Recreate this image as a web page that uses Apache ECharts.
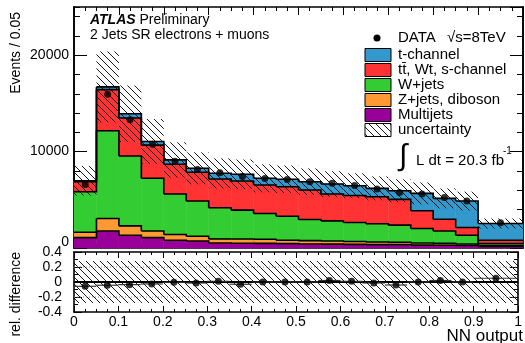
<!DOCTYPE html>
<html>
<head>
<meta charset="utf-8">
<script src="https://cdn.jsdelivr.net/npm/echarts@6.0.0/dist/echarts.min.js"></script>
<style>
  html, body { margin: 0; padding: 0; background: #fff; }
  #chart { width: 525px; height: 343px; }
</style>
</head>
<body>
<div id="chart"></div>
<script>
// bin edges of NN output (last bin is 0.9 - 1.0)
var binEdges = [0, 0.05, 0.1, 0.15, 0.2, 0.25, 0.3, 0.35, 0.4, 0.45, 0.5, 0.55, 0.6, 0.65, 0.7, 0.75, 0.8, 0.85, 0.9, 1.0];

// stacked MC, bottom to top
var multijets = [1080, 1770, 1320, 1080, 800, 730, 520, 500, 480, 450, 420, 400, 380, 350, 330, 300, 280, 260, 150];
var zjets     = [550, 1290, 970, 690, 600, 490, 420, 440, 420, 350, 340, 320, 300, 270, 250, 220, 200, 160, 100];
var wjets     = [4210, 9100, 7260, 5460, 4200, 3650, 3230, 2990, 2680, 2500, 2200, 2090, 1970, 1900, 1790, 1500, 1290, 900, 210];
var ttbar     = [1040, 4270, 3930, 3440, 3090, 2990, 2990, 3020, 2950, 3060, 3050, 2790, 2800, 2790, 2670, 1840, 1220, 810, 340];
var tchan     = [100, 280, 450, 380, 450, 410, 590, 700, 700, 770, 870, 1040, 1010, 880, 900, 1810, 2160, 2740, 1740];

var dataEvents = [6600, 15950, 13300, 10750, 9000, 8150, 7800, 7420, 7200, 7100, 6880, 6720, 6480, 6120, 5750, 5600, 5250, 4880, 2620];

// relative uncertainty (main panel band) and ratio panel band
var mcUnc    = [0.22, 0.22, 0.21, 0.21, 0.2, 0.2, 0.2, 0.2, 0.2, 0.2, 0.2, 0.2, 0.2, 0.2, 0.2, 0.2, 0.2, 0.2, 0.2];
var ratioUnc = [0.28, 0.28, 0.28, 0.28, 0.28, 0.28, 0.28, 0.28, 0.28, 0.28, 0.28, 0.28, 0.28, 0.28, 0.28, 0.28, 0.28, 0.28, 0.28];
var relDiff  = [-0.057, -0.043, -0.035, -0.026, -0.004, -0.013, 0.009, -0.03, 0, 0, 0, 0.02, 0.009, -0.013, -0.04, 0, 0.02, 0, 0.05];

var layerNames  = ['Multijets', 'Z+jets, diboson', 'W+jets', 'tt\u0304, Wt, s-channel', 't-channel'];
var layerColors = ['#990099', '#ff9933', '#33cc33', '#ff3333', '#3399cc'];
var layers = [multijets, zjets, wjets, ttbar, tchan];

var FONT = 'Liberation Sans';

// hatch pattern ( \\\ )
var hatch = document.createElement('canvas');
hatch.width = 7; hatch.height = 7;
var g = hatch.getContext('2d');
g.strokeStyle = '#000'; g.lineWidth = 0.9;
g.beginPath();
g.moveTo(-1, -1); g.lineTo(8, 8);
g.moveTo(-1, 6); g.lineTo(1, 8);
g.moveTo(6, -1); g.lineTo(8, 1);
g.stroke();
var hatchFill = { image: hatch, repeat: 'repeat' };

function rectItem(fill, stroke) {
  return function (params, api) {
    var p0 = api.coord([api.value(0), api.value(3)]);
    var p1 = api.coord([api.value(1), api.value(2)]);
    return {
      type: 'rect',
      shape: { x: p0[0], y: p0[1], width: p1[0] - p0[0], height: p1[1] - p0[1] },
      style: { fill: fill, stroke: stroke, lineWidth: stroke ? 0.5 : 0 }
    };
  };
}

var series = [];
var bottom = binEdges.slice(1).map(function () { return 0; });
var tops = [];
layers.forEach(function (layer, k) {
  var top = layer.map(function (v, i) { return bottom[i] + v; });
  series.push({
    type: 'custom', name: layerNames[k], xAxisIndex: 0, yAxisIndex: 0, z: 2, silent: true,
    data: top.map(function (t, i) { return [binEdges[i], binEdges[i + 1], bottom[i], t]; }),
    renderItem: rectItem(layerColors[k], layerColors[k])
  });
  tops.push(top);
  bottom = top;
});
var total = bottom;

// black step outlines on top of each layer
tops.forEach(function (top) {
  series.push({
    type: 'custom', xAxisIndex: 0, yAxisIndex: 0, z: 3, silent: true,
    data: top.map(function (t, i) { return [binEdges[i], binEdges[i + 1], t, i + 1 < top.length ? top[i + 1] : t]; }),
    renderItem: function (params, api) {
      var a = api.coord([api.value(0), api.value(2)]);
      var b = api.coord([api.value(1), api.value(2)]);
      var c = api.coord([api.value(1), api.value(3)]);
      return { type: 'polyline', shape: { points: [a, b, c] }, style: { stroke: '#000', lineWidth: 1.6, fill: null } };
    }
  });
});

// uncertainty hatch, main panel
series.push({
  type: 'custom', xAxisIndex: 0, yAxisIndex: 0, z: 4, silent: true,
  data: total.map(function (t, i) { return [binEdges[i], binEdges[i + 1], t * (1 - mcUnc[i]), t * (1 + mcUnc[i])]; }),
  renderItem: rectItem(hatchFill, null)
});

// data points
series.push({
  type: 'scatter', xAxisIndex: 0, yAxisIndex: 0, z: 5, symbolSize: 7,
  itemStyle: { color: '#000' },
  data: dataEvents.map(function (v, i) { return [(binEdges[i] + binEdges[i + 1]) / 2, v]; })
});

// ratio panel
series.push({
  type: 'custom', xAxisIndex: 2, yAxisIndex: 4, z: 2, silent: true,
  data: ratioUnc.map(function (u, i) { return [binEdges[i], binEdges[i + 1], -u, u]; }),
  renderItem: rectItem(hatchFill, null)
});
[0.2, -0.2].forEach(function (yv) {
  series.push({
    type: 'line', xAxisIndex: 2, yAxisIndex: 4, z: 3, symbol: 'none', silent: true,
    lineStyle: { color: '#888', width: 1, type: [1, 2] },
    data: [[0, yv], [1, yv]]
  });
});
series.push({
  type: 'line', xAxisIndex: 2, yAxisIndex: 4, z: 3, symbol: 'none', silent: true,
  lineStyle: { color: '#000', width: 1.8 },
  data: [[0, 0], [1, 0]]
});
series.push({
  type: 'custom', xAxisIndex: 2, yAxisIndex: 4, z: 4, silent: true,
  data: relDiff.map(function (r, i) { return [binEdges[i], binEdges[i + 1], r]; }),
  renderItem: function (params, api) {
    var a = api.coord([api.value(0), api.value(2)]);
    var b = api.coord([api.value(1), api.value(2)]);
    return { type: 'line', shape: { x1: a[0], y1: a[1], x2: b[0], y2: b[1] }, style: { stroke: '#333', lineWidth: 1.2 } };
  }
});
series.push({
  type: 'scatter', xAxisIndex: 2, yAxisIndex: 4, z: 5, symbolSize: 7,
  itemStyle: { color: '#000' },
  data: relDiff.map(function (r, i) { return [(binEdges[i] + binEdges[i + 1]) / 2, r]; })
});

var axisLine = { show: true, onZero: false, lineStyle: { color: '#000', width: 1.6 } };
function xAx(grid, pos, labels, tickLen) {
  return {
    type: 'value', gridIndex: grid, position: pos, min: 0, max: 1, interval: 0.1,
    axisLine: axisLine,
    axisTick: { show: true, inside: true, length: tickLen, lineStyle: { color: '#000', width: 1 } },
    minorTick: { show: true, splitNumber: 4, length: tickLen / 2, lineStyle: { color: '#000', width: 1 } },
    splitLine: { show: false },
    axisLabel: { show: labels, color: '#000', fontSize: 14, fontFamily: FONT, margin: 3 }
  };
}
function yAx(grid, pos, min, max, interval, tickLen, labels, extra) {
  var a = {
    type: 'value', gridIndex: grid, position: pos, offset: 0, min: min, max: max, interval: interval,
    axisLine: axisLine,
    axisTick: { show: true, inside: true, length: tickLen, lineStyle: { color: '#000', width: 1 } },
    splitLine: { show: false },
    axisLabel: { show: labels, color: '#000', fontSize: 14, fontFamily: FONT, showMaxLabel: false }
  };
  return Object.assign(a, extra || {});
}

var option = {
  animation: false,
  backgroundColor: '#fff',
  textStyle: { fontFamily: FONT },
  grid: [
    { left: 74, right: 2, top: 7, height: 241 },
    { left: 74, right: 2, top: 252, height: 60 }
  ],
  xAxis: [
    xAx(0, 'bottom', false, 8),
    xAx(0, 'top', false, 8),
    xAx(1, 'bottom', true, 6),
    xAx(1, 'top', false, 6)
  ],
  yAxis: [
    yAx(0, 'left', 0, 25000, 10000, 13, true),
    yAx(0, 'left', 0, 25000, 2000, 6, false),
    yAx(0, 'right', 0, 25000, 10000, 13, false),
    yAx(0, 'right', 0, 25000, 2000, 6, false),
    yAx(1, 'left', -0.4, 0.4, 0.2, 8, true, {
      minorTick: { show: true, splitNumber: 2, length: 4, lineStyle: { color: '#000' } }
    }),
    yAx(1, 'right', -0.4, 0.4, 0.2, 8, false, {
      minorTick: { show: true, splitNumber: 2, length: 4, lineStyle: { color: '#000' } }
    })
  ],
  series: series,
  graphic: []
};

// label tweaks
option.yAxis[0].axisLabel.margin = 5;
option.yAxis[0].axisLabel.formatter = function (v) { return v === 0 ? '{z|0}' : String(v); };
option.yAxis[0].axisLabel.rich = { z: { fontSize: 14, fontFamily: FONT, color: '#000', padding: [0, 0, 12, 0] } };
option.yAxis[4].axisLabel.margin = 12;
option.yAxis[4].axisLabel.showMaxLabel = true;
option.yAxis[4].axisLabel.formatter = function (v) { return String(Math.round(v * 10) / 10); };
option.xAxis[2].axisLabel.formatter = function (v) { return String(Math.round(v * 10) / 10); };

var gr = option.graphic;
function txt(x, y, s, size, extra) {
  var o = { type: 'text', x: x, y: y, z: 10, style: Object.assign({ text: s, font: size + 'px ' + FONT, fill: '#000', verticalAlign: 'middle' }, extra || {}) };
  return o;
}
gr.push(txt(90, 20, '{b|ATLAS} Preliminary', 14, { rich: { b: { font: 'italic bold 14px ' + FONT, fill: '#000' } } }));
gr.push(txt(90, 35, '2 Jets SR electrons + muons', 14));

// legend
gr.push({ type: 'circle', z: 10, shape: { cx: 377, cy: 38, r: 3.5 }, style: { fill: '#000' } });
gr.push(txt(398, 38, 'DATA', 15));
gr.push(txt(447, 38, '\u221As=8TeV', 15));
var legendOrder = [4, 3, 2, 1, 0];
legendOrder.forEach(function (k, j) {
  var cy = 55 + j * 15;
  gr.push({ type: 'rect', z: 10, shape: { x: 365, y: cy - 6.5, width: 26, height: 13 }, style: { fill: layerColors[k], stroke: '#000', lineWidth: 1 } });
  gr.push(txt(398, cy - 0.5, layerNames[k], 15));
});
gr.push({ type: 'rect', z: 10, shape: { x: 365, y: 130 - 6.5, width: 26, height: 13 }, style: { fill: hatchFill, stroke: '#000', lineWidth: 1 } });
gr.push(txt(398, 129.5, 'uncertainty', 15));

// luminosity
gr.push(txt(399, 157, '\u222B', 30));
gr.push(txt(416, 161, 'L dt = 20.3 fb', 15));
gr.push(txt(503, 151, '-1', 10));

// axis titles
gr.push(txt(16, 12, 'Events / 0.05', 14, { align: 'right' }));
gr[gr.length - 1].rotation = Math.PI / 2;
gr.push(txt(16, 252, 'rel. difference', 14, { align: 'right' }));
gr[gr.length - 1].rotation = Math.PI / 2;
gr.push(txt(523, 336, 'NN output', 17, { align: 'right' }));

var chart = echarts.init(document.getElementById('chart'), null, { renderer: 'canvas' });
chart.setOption(option);
</script>
</body>
</html>
